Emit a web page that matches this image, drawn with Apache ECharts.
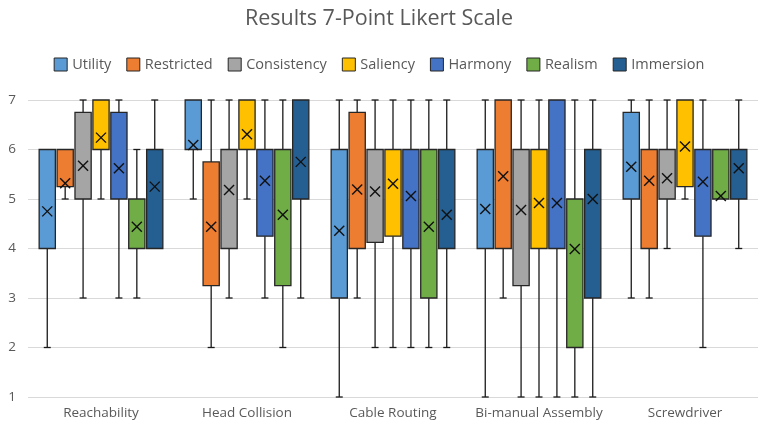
<!DOCTYPE html>
<html>
<head>
<meta charset="utf-8">
<script src="https://cdn.jsdelivr.net/npm/echarts@6/dist/echarts.min.js"></script>
<style>
  html, body { margin: 0; padding: 0; background: #fff; }
  #chart { width: 758px; height: 429px; }
</style>
</head>
<body>
<div id="chart"></div>
<script>
// Tasks on the x axis
const categories = ['Reachability', 'Head Collision', 'Cable Routing', 'Bi-manual Assembly', 'Screwdriver'];
const yTicks = [1, 2, 3, 4, 5, 6, 7];

// Each entry per task: [min, q1, q3, max, mean]
const utility     = [[2, 4, 6, 6, 4.75], [5, 6, 7, 7, 6.09], [1, 3, 6, 7, 4.36], [1, 4, 6, 7, 4.80], [3, 5, 6.75, 7, 5.65]];
const restricted  = [[5, 5.25, 6, 6, 5.32], [2, 3.25, 5.75, 7, 4.44], [3, 4, 6.75, 7, 5.19], [3, 4, 7, 7, 5.46], [3, 4, 6, 7, 5.37]];
const consistency = [[3, 5, 6.75, 7, 5.67], [3, 4, 6, 7, 5.18], [2, 4.125, 6, 7, 5.15], [1, 3.25, 6, 7, 4.78], [4, 5, 6, 7, 5.42]];
const saliency    = [[5, 6, 7, 7, 6.24], [5, 6, 7, 7, 6.31], [2, 4.25, 6, 7, 5.31], [1, 4, 6, 7, 4.92], [5, 5.25, 7, 7, 6.06]];
const harmony     = [[3, 5, 6.75, 7, 5.62], [3, 4.25, 6, 7, 5.37], [2, 4, 6, 7, 5.06], [1, 4, 7, 7, 4.92], [2, 4.25, 6, 7, 5.35]];
const realism     = [[3, 4, 5, 6, 4.44], [2, 3.25, 6, 7, 4.68], [2, 3, 6, 7, 4.44], [1, 2, 5, 7, 3.99], [5, 5, 6, 6, 5.06]];
const immersion   = [[4, 4, 6, 7, 5.25], [3, 5, 7, 7, 5.75], [2, 4, 6, 7, 4.68], [1, 3, 6, 7, 5.00], [4, 5, 6, 7, 5.62]];

const seriesNames = ['Utility', 'Restricted', 'Consistency', 'Saliency', 'Harmony', 'Realism', 'Immersion'];
const seriesData = [utility, restricted, consistency, saliency, harmony, realism, immersion];
const seriesColors = ['#5B9BD5', '#ED7D31', '#A5A5A5', '#FFC000', '#4472C4', '#70AD47', '#255E91'];

const FONT = '"Open Sans", Lato, sans-serif';
const nSeries = seriesNames.length;
const slot = 0.1227;   // fraction of category band per box slot
const boxFrac = 0.111; // fraction of category band for box width

function makeRender(seriesIndex, color) {
  return function (params, api) {
    const cat = api.value(0);
    const vMin = api.value(1), q1 = api.value(2), q3 = api.value(3), vMax = api.value(4), mean = api.value(5);
    const band = api.size([1, 0])[0];
    const center = api.coord([cat, 0])[0] + (seriesIndex - (nSeries - 1) / 2) * band * slot;
    const w = band * boxFrac;
    const yMin = api.coord([cat, vMin])[1];
    const yQ1 = api.coord([cat, q1])[1];
    const yQ3 = api.coord([cat, q3])[1];
    const yMax = api.coord([cat, vMax])[1];
    const yMean = api.coord([cat, mean])[1];
    const lineStyle = { stroke: '#1a1a1a', lineWidth: 1.3 };
    const cap = 3.5;
    const children = [];
    if (vMin < q1) {
      children.push({ type: 'line', shape: { x1: center, y1: yQ1, x2: center, y2: yMin }, style: lineStyle });
      children.push({ type: 'line', shape: { x1: center - cap, y1: yMin, x2: center + cap, y2: yMin }, style: lineStyle });
    }
    if (vMax > q3) {
      children.push({ type: 'line', shape: { x1: center, y1: yQ3, x2: center, y2: yMax }, style: lineStyle });
      children.push({ type: 'line', shape: { x1: center - cap, y1: yMax, x2: center + cap, y2: yMax }, style: lineStyle });
    }
    children.push({
      type: 'rect',
      shape: { x: center - w / 2, y: yQ3, width: w, height: yQ1 - yQ3 },
      style: { fill: color, stroke: '#262626', lineWidth: 1.3 }
    });
    const m = 5;
    const xStyle = { stroke: '#111', lineWidth: 1.4 };
    children.push({ type: 'line', shape: { x1: center - m, y1: yMean - m, x2: center + m, y2: yMean + m }, style: xStyle });
    children.push({ type: 'line', shape: { x1: center - m, y1: yMean + m, x2: center + m, y2: yMean - m }, style: xStyle });
    return { type: 'group', children: children };
  };
}

const series = seriesNames.map(function (name, i) {
  return {
    name: name,
    type: 'custom',
    renderItem: makeRender(i, seriesColors[i]),
    itemStyle: { color: seriesColors[i], borderColor: '#262626', borderWidth: 1 },
    encode: { x: 0, y: [1, 2, 3, 4, 5] },
    data: seriesData[i].map(function (d, c) { return [c].concat(d); })
  };
});

const chart = echarts.init(document.getElementById('chart'), null, { renderer: 'canvas' });
chart.setOption({
  animation: false,
  color: seriesColors,
  title: {
    text: 'Results 7-Point Likert Scale',
    left: 'center',
    top: 3,
    textStyle: { fontFamily: FONT, fontSize: 21.5, fontWeight: 'normal', color: '#595959' }
  },
  legend: {
    data: seriesNames,
    top: 52,
    left: 'center',
    icon: 'rect',
    itemWidth: 13,
    itemHeight: 13,
    itemGap: 15,
    itemStyle: { borderColor: '#262626', borderWidth: 1 },
    textStyle: { fontFamily: FONT, fontSize: 14.5, color: '#595959' }
  },
  grid: { left: 28, width: 737, top: 100, bottom: 32, containLabel: false },
  xAxis: {
    type: 'category',
    data: categories,
    axisLine: { show: false },
    axisTick: { show: false },
    axisLabel: { interval: 0, fontFamily: FONT, fontSize: 13.5, color: '#595959', margin: 9 },
    splitLine: { show: false }
  },
  yAxis: {
    type: 'value',
    min: yTicks[0],
    max: yTicks[yTicks.length - 1],
    interval: 1,
    axisLine: { show: false },
    axisTick: { show: false },
    axisLabel: { fontFamily: FONT, fontSize: 13.5, color: '#595959', margin: 12 },
    splitLine: { lineStyle: { color: '#d9d9d9', width: 1 } }
  },
  series: series
});
</script>
</body>
</html>
